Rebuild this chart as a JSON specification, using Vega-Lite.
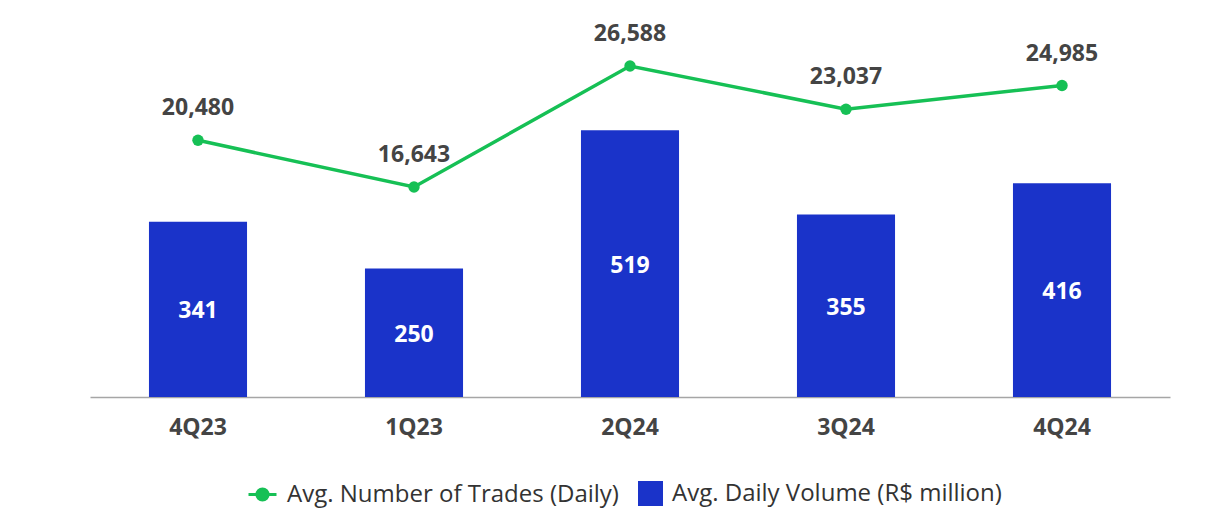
{
  "$schema": "https://vega.github.io/schema/vega-lite/v6.json",
  "autosize": {"type": "none"},
  "width": 1080,
  "height": 387,
  "padding": {"left": 90, "top": 10, "right": 38, "bottom": 125},
  "background": "white",
  "config": {"view": {"stroke": null}, "font": "Open Sans"},
  "data": {"values": [
    {"quarter": "4Q23", "volume": 341, "trades": 20480},
    {"quarter": "1Q23", "volume": 250, "trades": 16643},
    {"quarter": "2Q24", "volume": 519, "trades": 26588},
    {"quarter": "3Q24", "volume": 355, "trades": 23037},
    {"quarter": "4Q24", "volume": 416, "trades": 24985}
  ]},
  "encoding": {
    "x": {"field": "quarter", "type": "nominal", "sort": null,
      "scale": {"paddingInner": 0.546, "paddingOuter": 0.273},
      "axis": {"title": null, "labelAngle": 0, "ticks": false, "domainColor": "#a6a6a6", "domainWidth": 1.5,
        "labelFontSize": 23, "labelFontWeight": "bold", "labelColor": "#444444", "labelPadding": 19, "labelFont": "Open Sans"}}
  },
  "layer": [
    {
      "mark": {"type": "bar", "color": "#1a33c9"},
      "encoding": {
        "y": {"field": "volume", "type": "quantitative", "scale": {"domain": [0, 753]}, "axis": null},
        "fill": {"datum": "Avg. Daily Volume (R$ million)", "type": "nominal",
          "scale": {"range": ["#1a33c9"]},
          "legend": {"title": null, "orient": "none", "legendX": 548, "legendY": 471,
            "symbolType": "square", "symbolSize": 625, "symbolStrokeWidth": 0, "labelFontSize": 24, "labelColor": "#333333",
            "labelFont": "Open Sans", "labelOffset": 9, "labelLimit": 500}}
      }
    },
    {
      "mark": {"type": "text", "color": "white", "fontSize": 23, "fontWeight": "bold", "baseline": "middle", "dy": 2, "font": "Open Sans"},
      "encoding": {
        "y": {"field": "volume", "type": "quantitative", "scale": {"domain": [0, 1506]}, "axis": null},
        "text": {"field": "volume", "type": "quantitative"}
      }
    },
    {
      "mark": {"type": "line", "strokeWidth": 3.5},
      "encoding": {
        "y": {"field": "trades", "type": "quantitative", "scale": {"domain": [-616, 31191]}, "axis": null},
        "stroke": {"datum": "Avg. Number of Trades (Daily)", "type": "nominal",
          "scale": {"range": ["#16c055"]},
          "legend": {"title": null, "orient": "none", "legendX": 157, "legendY": 469,
            "symbolType": "M-1,0L1,0M0.4,0A0.4,0.4,0,1,1,-0.4,0A0.4,0.4,0,1,1,0.4,0Z", "symbolSize": 784, "symbolStrokeWidth": 3,
            "labelFontSize": 24, "labelColor": "#333333", "labelFont": "Open Sans", "labelOffset": 9, "labelLimit": 500,
            "encode": {"symbols": {"update": {"fill": {"value": "#16c055"}}}}}}
      }
    },
    {
      "mark": {"type": "point", "filled": true, "size": 130, "color": "#16c055", "opacity": 1},
      "encoding": {
        "y": {"field": "trades", "type": "quantitative", "scale": {"domain": [-616, 31191]}, "axis": null}
      }
    },
    {
      "mark": {"type": "text", "color": "#444444", "fontSize": 23, "fontWeight": "bold", "baseline": "middle", "dy": -32, "font": "Open Sans"},
      "encoding": {
        "y": {"field": "trades", "type": "quantitative", "scale": {"domain": [-616, 31191]}, "axis": null},
        "text": {"field": "trades", "type": "quantitative", "format": ","}
      }
    }
  ],
  "resolve": {"scale": {"y": "independent"}}
}
